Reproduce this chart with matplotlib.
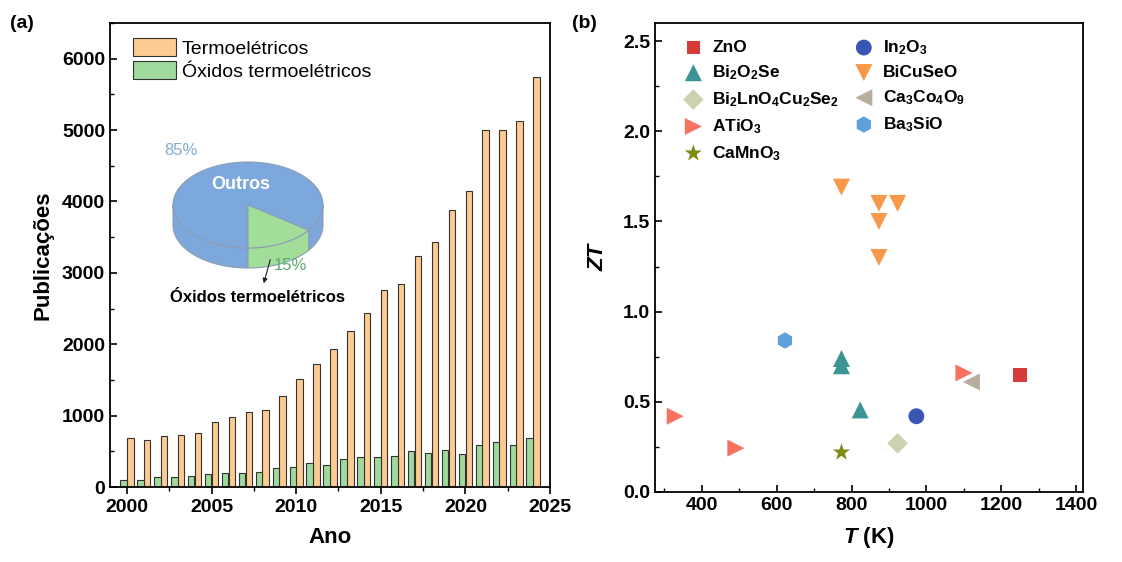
import numpy as np
import matplotlib
matplotlib.use('Agg')
import matplotlib.pyplot as plt
from matplotlib.patches import Polygon, Patch
from matplotlib.ticker import MultipleLocator

plt.rcParams['font.family'] = ['Liberation Sans', 'DejaVu Sans']
plt.rcParams['mathtext.fontset'] = 'custom'
plt.rcParams['mathtext.rm'] = 'Liberation Sans:bold'
plt.rcParams['mathtext.bf'] = 'Liberation Sans:bold'
plt.rcParams['mathtext.it'] = 'Liberation Sans:italic:bold'
plt.rcParams['mathtext.default'] = 'bf'

# (a) publications per year
years = list(range(2000, 2025))
termo = [690, 655, 715, 735, 755, 915, 980, 1055, 1075, 1270, 1515, 1725, 1940,
         2190, 2435, 2765, 2840, 3235, 3435, 3880, 4150, 5000, 5000, 5130, 5750]
oxidos = [105, 95, 140, 140, 155, 180, 190, 195, 210, 260, 280, 335, 315,
          395, 420, 425, 440, 505, 480, 520, 465, 595, 635, 590, 685]
pie_shares = [85, 15]

# (b) ZT vs temperature
materials = ['ZnO', r'Bi$_2$O$_2$Se', r'Bi$_2$LnO$_4$Cu$_2$Se$_2$', r'ATiO$_3$', r'CaMnO$_3$',
             r'In$_2$O$_3$', 'BiCuSeO', r'Ca$_3$Co$_4$O$_9$', r'Ba$_3$SiO']
temps = [[1250], [773, 773, 823], [923], [329, 491, 1100], [773],
         [973], [773, 873, 923, 873, 873], [1120], [622]]
zts = [[0.65], [0.74, 0.70, 0.455], [0.27], [0.42, 0.243, 0.66], [0.22],
       [0.42], [1.69, 1.60, 1.60, 1.50, 1.30], [0.61], [0.84]]
markers = ['s', '^', 'D', '>', '*', 'o', 'v', '<', 'h']
colors = ['#D63B3B', '#3D9494', '#CDD1B0', '#F8735F', '#7F8A13',
          '#3A56B5', '#F7984A', '#B8AE9F', '#5FA0DA']
sizes = [95, 150, 110, 150, 170, 130, 150, 150, 140]

W, H = 1122, 562
fig = plt.figure(figsize=(W / 100, H / 100), dpi=100)

def px_box(l, t, r, b):
    return [l / W, 1 - b / H, (r - l) / W, (b - t) / H]

orange = '#FDCB92'
green = '#9FD99B'

ax1 = fig.add_axes(px_box(110, 23, 550, 487))
yrs = np.array(years)
ax1.bar(yrs + 0.2, termo, width=0.38, color=orange, edgecolor='#333333', linewidth=0.8)
ax1.bar(yrs - 0.2, oxidos, width=0.38, color=green, edgecolor='#333333', linewidth=0.8)
ax1.set_xlim(1999, 2025)
ax1.set_ylim(0, 6500)
ax1.xaxis.set_major_locator(MultipleLocator(5))
ax1.xaxis.set_minor_locator(MultipleLocator(2.5))
ax1.yaxis.set_major_locator(MultipleLocator(1000))
ax1.yaxis.set_minor_locator(MultipleLocator(500))
ax1.tick_params(axis='x', which='both', direction='out')
ax1.tick_params(axis='y', which='both', direction='in')
ax1.tick_params(which='major', length=5, width=1.2, labelsize=14)
ax1.tick_params(which='minor', length=3, width=1.0)
for lab in ax1.get_xticklabels() + ax1.get_yticklabels():
    lab.set_fontweight('bold')
for s in ax1.spines.values():
    s.set_linewidth(1.3)
ax1.set_xlabel('Ano', fontsize=16, fontweight='bold', labelpad=8)
ax1.set_ylabel('Publicações', fontsize=16, fontweight='bold', labelpad=6)

handles = [Patch(facecolor=orange, edgecolor='#333333', linewidth=0.8),
           Patch(facecolor=green, edgecolor='#333333', linewidth=0.8)]
ax1.legend(handles, ['Termoelétricos', 'Óxidos termoelétricos'], loc='upper left',
           bbox_to_anchor=(0.035, 0.985), frameon=False, fontsize=14,
           handlelength=2.2, handleheight=1.1, labelspacing=0.15,
           handletextpad=0.3, borderaxespad=0.2, borderpad=0.2)

# 3D-looking pie inset drawn in pixel units
axp = fig.add_axes(px_box(150, 135, 340, 310))
axp.set_xlim(150, 340)
axp.set_ylim(0, 175)
axp.axis('off')
cx, cy, a, b, h = 248, 105, 75, 43, 20
pie_colors = ['#7DA8DC', '#A2DD9A']
edge = '#8C9DB5'
fracs = np.array(pie_shares) / sum(pie_shares)
# green share starts at the bottom and runs counter-clockwise
t_start = -90 + fracs[1] * 360
wedges = [(t_start, t_start + fracs[0] * 360), (-90, t_start)]

def arc(t0, t1, dy=0.0):
    t = np.radians(np.linspace(t0, t1, 80))
    return np.column_stack([cx + a * np.cos(t), cy + dy + b * np.sin(t)])

for (t0, t1), col in zip(wedges, pie_colors):
    for lo, hi in [(-180, 0), (180, 360)]:
        s0, s1 = max(t0, lo), min(t1, hi)
        if s1 > s0:
            top = arc(s0, s1)
            bot = arc(s0, s1, -h)[::-1]
            axp.add_patch(Polygon(np.vstack([top, bot]), closed=True, facecolor=col,
                                  edgecolor=edge, linewidth=0.8))
for (t0, t1), col in zip(wedges, pie_colors):
    pts = np.vstack([[cx, cy], arc(t0, t1)])
    axp.add_patch(Polygon(pts, closed=True, facecolor=col, edgecolor=edge, linewidth=0.8))

axp.text(181, 160, f'{pie_shares[0]}%', color='#86A9CF', fontsize=12, ha='center', va='center')
axp.text(241, 126, 'Outros', color='white', fontsize=13, fontweight='bold', ha='center', va='center')
axp.text(290, 44, f'{pie_shares[1]}%', color='#5DAA72', fontsize=12, ha='center', va='center')
axp.annotate('', xy=(263, 24), xytext=(271, 53),
             arrowprops=dict(arrowstyle='-|>', color='#222222', lw=0.8, mutation_scale=7))
axp.text(258, 12, 'Óxidos termoelétricos', color='black', fontsize=12, fontweight='bold',
         ha='center', va='center', clip_on=False)

# (b)
ax2 = fig.add_axes(px_box(655, 23, 1083, 492))
for name, T, Z, m, c, s in zip(materials, temps, zts, markers, colors, sizes):
    ax2.scatter(T, Z, marker=m, s=s, color=c, edgecolors='none', label=name, zorder=3)
ax2.set_xlim(275, 1418)
ax2.set_ylim(0, 2.6)
ax2.xaxis.set_major_locator(MultipleLocator(200))
ax2.xaxis.set_minor_locator(MultipleLocator(100))
ax2.yaxis.set_major_locator(MultipleLocator(0.5))
ax2.yaxis.set_minor_locator(MultipleLocator(0.25))
ax2.tick_params(which='both', direction='in')
ax2.tick_params(which='major', length=5, width=1.2, labelsize=14)
ax2.tick_params(which='minor', length=3, width=1.0)
for lab in ax2.get_xticklabels() + ax2.get_yticklabels():
    lab.set_fontweight('bold')
for s in ax2.spines.values():
    s.set_linewidth(1.3)
ax2.set_xlabel(r'$\mathit{T}$ (K)', fontsize=16, fontweight='bold', labelpad=8)
ax2.set_ylabel('ZT', fontsize=16, fontweight='bold', fontstyle='italic', labelpad=10)
ax2.legend(loc='upper left', bbox_to_anchor=(0.045, 0.99), ncol=2, frameon=False,
           prop={'weight': 'bold', 'size': 12.5}, handlelength=1.0, handletextpad=0.6,
           labelspacing=0.47, columnspacing=0.9, borderaxespad=0.2, scatterpoints=1)

fig.text(10 / W, 1 - 24 / H, '(a)', fontsize=14, fontweight='bold', va='center')
fig.text(572 / W, 1 - 24 / H, '(b)', fontsize=14, fontweight='bold', va='center')

fig.savefig('out.png', dpi=100, facecolor='white')
